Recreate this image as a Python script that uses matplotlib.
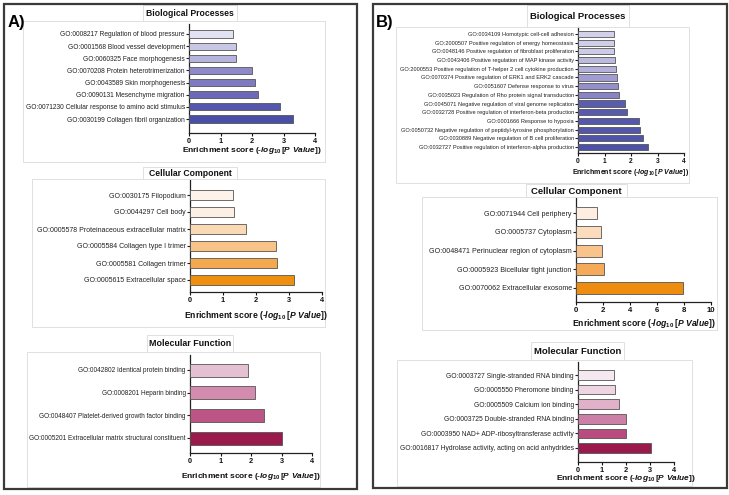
import matplotlib
matplotlib.use('Agg')
import matplotlib.pyplot as plt
from matplotlib.patches import Rectangle

plt.rcParams['font.family'] = ['Liberation Sans', 'DejaVu Sans']
plt.rcParams['mathtext.fontset'] = 'custom'
plt.rcParams['mathtext.rm'] = 'Liberation Sans:bold'
plt.rcParams['mathtext.it'] = 'Liberation Sans:italic:bold'
plt.rcParams['mathtext.bf'] = 'Liberation Sans:bold'

W, H = 729, 495

# ---------------- data ----------------
a_bp_terms = ["GO:0008217 Regulation of blood pressure",
              "GO:0001568 Blood vessel development",
              "GO:0060325 Face morphogenesis",
              "GO:0070208 Protein heterotrimerization",
              "GO:0043589 Skin morphogenesis",
              "GO:0090131 Mesenchyme migration",
              "GO:0071230 Cellular response to amino acid stimulus",
              "GO:0030199 Collagen fibril organization"]
a_bp_values = [1.4, 1.5, 1.5, 2.0, 2.1, 2.2, 2.9, 3.3]

a_cc_terms = ["GO:0030175 Filopodium",
              "GO:0044297 Cell body",
              "GO:0005578 Proteinaceous extracellular matrix",
              "GO:0005584 Collagen type I trimer",
              "GO:0005581 Collagen trimer",
              "GO:0005615 Extracellular space"]
a_cc_values = [1.3, 1.33, 1.7, 2.6, 2.65, 3.15]

a_mf_terms = ["GO:0042802 Identical protein binding",
              "GO:0008201 Heparin binding",
              "GO:0048407 Platelet-derived growth factor binding",
              "GO:0005201 Extracellular matrix structural constituent"]
a_mf_values = [1.9, 2.12, 2.43, 3.03]

b_bp_terms = ["GO:0034109 Homotypic cell-cell adhesion",
              "GO:2000507 Positive regulation of energy homeostasis",
              "GO:0048146 Positive regulation of fibroblast proliferation",
              "GO:0043406 Positive regulation of MAP kinase activity",
              "GO:2000553 Positive regulation of T-helper 2 cell cytokine production",
              "GO:0070374 Positive regulation of ERK1 and ERK2 cascade",
              "GO:0051607 Defense response to virus",
              "GO:0035023 Regulation of Rho protein signal transduction",
              "GO:0045071 Negative regulation of viral genome replication",
              "GO:0032728 Positive regulation of interferon-beta production",
              "GO:0001666 Response to hypoxia",
              "GO:0050732 Negative regulation of peptidyl-tyrosine phosphorylation",
              "GO:0030889 Negative regulation of B cell proliferation",
              "GO:0032727 Positive regulation of interferon-alpha production"]
b_bp_values = [1.35, 1.35, 1.35, 1.39, 1.45, 1.48, 1.52, 1.55,
               1.77, 1.86, 2.31, 2.35, 2.44, 2.65]

b_cc_terms = ["GO:0071944 Cell periphery",
              "GO:0005737 Cytoplasm",
              "GO:0048471 Perinuclear region of cytoplasm",
              "GO:0005923 Bicellular tight junction",
              "GO:0070062 Extracellular exosome"]
b_cc_values = [1.58, 1.88, 1.95, 2.07, 7.93]

b_mf_terms = ["GO:0003727 Single-stranded RNA binding",
              "GO:0005550 Pheromone binding",
              "GO:0005509 Calcium ion binding",
              "GO:0003725 Double-stranded RNA binding",
              "GO:0003950 NAD+ ADP-ribosyltransferase activity",
              "GO:0016817 Hydrolase activity, acting on acid anhydrides"]
b_mf_values = [1.52, 1.56, 1.7, 1.98, 1.98, 3.05]

x_ticks_4 = [0, 1, 2, 3, 4]
x_ticks_10 = [0, 2, 4, 6, 8, 10]

# ---------------- colours ----------------
a_bp_colors = ['#e3e2f2', '#c9c7e6', '#b6b3dc', '#8e8ac9', '#7f7bc1', '#6c69b8', '#5457ab', '#4a4fa6']
b_bp_colors = ['#d3d1ea', '#d0cee9', '#cdcbe8', '#bdbae0', '#b3b0db', '#a19dd3', '#9490cc', '#8884c6',
               '#5a5dae', '#585bad', '#5457ab', '#5356aa', '#5155a9', '#4d51a7']
a_cc_colors = ['#fdf3ea', '#fcefe3', '#fbd9b4', '#f8c386', '#f4a850', '#ef8f10']
b_cc_colors = ['#fdeee1', '#fbdcbd', '#f8c48c', '#f4aa58', '#ee8c10']
a_mf_colors = ['#e5c0d3', '#d48cae', '#bc5485', '#9b1a4c']
b_mf_colors = ['#f6e8f0', '#efd5e2', '#e0b1c9', '#cd80a7', '#b94b7f', '#9b1a4c']

fig = plt.figure(figsize=(W / 100, H / 100), dpi=100)


def fig_rect(x0, y0, x1, y1, color, lw):
    fig.patches.append(Rectangle((x0 / W, 1 - y1 / H), (x1 - x0) / W, (y1 - y0) / H,
                                 transform=fig.transFigure, fill=False,
                                 edgecolor=color, linewidth=lw, zorder=0))


XLABEL = "Enrichment score (-" + r"$\mathit{log_{10}\,[P\ Value]}$" + ")"


def panel(terms, values, colors, ticks, axpx, c0, c1, bar_px, fs, tfs, lfs,
          title, tbox, ibox, xlab_y, title_fs):
    x0, x1, ytop, ybot = axpx
    n = len(terms)
    s = (c1 - c0) / (n - 1)
    ax = fig.add_axes([x0 / W, 1 - ybot / H, (x1 - x0) / W, (ybot - ytop) / H])
    ax.patch.set_alpha(0)
    ax.barh(range(n), values, height=bar_px / s, color=colors,
            edgecolor='#555555', linewidth=0.6, zorder=3)
    ax.set_ylim((ybot - c0) / s, (ytop - c0) / s)
    ax.set_xlim(ticks[0], ticks[-1])
    ax.set_yticks(range(n))
    ax.set_yticklabels(terms, fontsize=fs, color='#2a2a2a')
    ax.set_xticks(ticks)
    ax.set_xticklabels([str(t) for t in ticks], fontsize=tfs, fontweight='bold')
    for sp in ['top', 'right']:
        ax.spines[sp].set_visible(False)
    for sp in ['left', 'bottom']:
        ax.spines[sp].set_linewidth(0.9)
        ax.spines[sp].set_color('#222222')
    ax.spines['bottom'].set_bounds(ticks[0], ticks[-1])
    ax.tick_params(axis='y', length=2.5, width=0.8, pad=0.5, colors='#222222')
    ax.tick_params(axis='x', length=2.5, width=0.8, pad=0.8, colors='#111111')
    fig.text((x0 + x1) / 2 / W, 1 - xlab_y / H, XLABEL, fontsize=lfs,
             fontweight='bold', ha='center', va='center', color='#111111')
    # boxes
    fig_rect(*ibox, '#e0e0e0', 0.7)
    fig_rect(*tbox, '#e0e0e0', 0.7)
    fig.text((tbox[0] + tbox[2]) / 2 / W, 1 - ((tbox[1] + tbox[3]) / 2 + 0.5) / H, title,
             fontsize=title_fs, fontweight='bold', ha='center', va='center', color='#111111')
    return ax


# Panel A
panel(a_bp_terms, a_bp_values, a_bp_colors, x_ticks_4, (189, 315, 24, 133), 34, 119, 7.2,
      4.75, 5.3, 6.0, "Biological Processes", (143, 5, 237, 21), (23, 21, 325, 162), 151, 6.2)
panel(a_cc_terms, a_cc_values, a_cc_colors, x_ticks_4, (190, 322, 180, 292), 195, 280, 10,
      5.05, 5.3, 6.2, "Cellular Component", (143, 167, 237, 179), (32, 179, 325, 327), 316, 6.2)
panel(a_mf_terms, a_mf_values, a_mf_colors, x_ticks_4, (190, 312, 355, 453), 370, 438, 13,
      4.7, 5.3, 6.0, "Molecular Function", (147, 335, 233, 352), (27, 352, 320, 487), 477, 6.4)

# Panel B
panel(b_bp_terms, b_bp_values, b_bp_colors, x_ticks_4, (578, 684, 27, 153), 34, 147, 6.2,
      4.1, 4.8, 5.0, "Biological Processes", (527, 5, 629, 27), (396, 27, 689, 183), 173, 6.8)
panel(b_cc_terms, b_cc_values, b_cc_colors, x_ticks_10, (576, 711, 198, 302), 213, 288, 12,
      5.1, 5.6, 6.2, "Cellular Component", (526, 184, 627, 197), (422, 197, 717, 330), 324, 6.8)
panel(b_mf_terms, b_mf_values, b_mf_colors, x_ticks_4, (578, 674, 362, 462), 375, 448, 9.5,
      4.9, 5.3, 6.0, "Molecular Function", (531, 342, 624, 360), (397, 360, 692, 486), 478, 6.8)

# outer frames and labels
fig_rect(3.5, 3.5, 356.5, 488.5, '#3a3a3a', 1.6)
fig_rect(372.5, 3.5, 726.5, 487.5, '#3a3a3a', 1.6)
fig.text(8 / W, 1 - 23 / H, "A)", fontsize=12, fontweight='bold', ha='left', va='center')
fig.text(376 / W, 1 - 22 / H, "B)", fontsize=12, fontweight='bold', ha='left', va='center')

fig.savefig('out.png', dpi=100)
